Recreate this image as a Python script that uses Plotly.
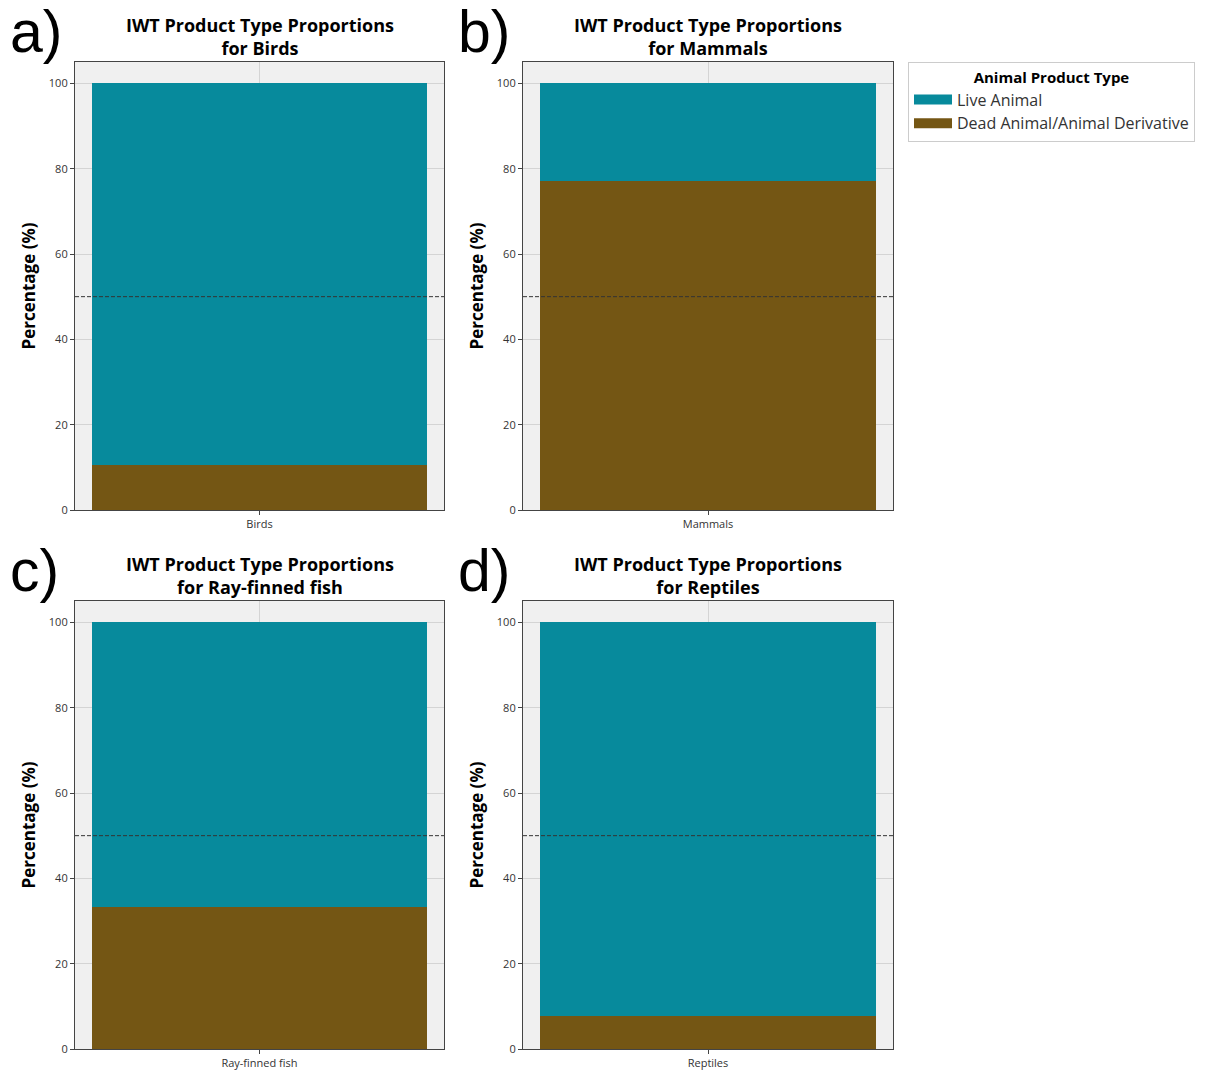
import plotly.graph_objects as go

groups = ["Birds", "Mammals", "Ray-finned fish", "Reptiles"]
dead_pct = [10.5, 77.1, 33.2, 7.7]
live_pct = [100 - d for d in dead_pct]
panel_letters = ["a)", "b)", "c)", "d)"]
series_names = ["Live Animal", "Dead Animal/Animal Derivative"]
colors = {"Live Animal": "#078a9c", "Dead Animal/Animal Derivative": "#745614"}

W, H = 1209, 1070
xdoms = [(75 / W, 444 / W), (523 / W, 893 / W)]
ydoms = [(1 - 510 / H, 1 - 62 / H), (1 - 1049 / H, 1 - 601 / H)]

fig = go.Figure()
FONT = "'Open Sans', Lato, sans-serif"

for i, g in enumerate(groups):
    row, col = divmod(i, 2)
    idx = "" if i == 0 else str(i + 1)
    xa, ya = "x" + idx, "y" + idx
    fig.add_trace(go.Bar(x=[0], y=[dead_pct[i]], width=0.8, name=series_names[1],
                         marker=dict(color=colors[series_names[1]], line=dict(width=0)),
                         xaxis=xa, yaxis=ya, showlegend=False))
    fig.add_trace(go.Bar(x=[0], y=[live_pct[i]], width=0.8, name=series_names[0],
                         marker=dict(color=colors[series_names[0]], line=dict(width=0)),
                         xaxis=xa, yaxis=ya, showlegend=False))
    axcommon = dict(showline=True, linecolor="#444", linewidth=1.2, mirror=True,
                    ticks="outside", ticklen=4, tickcolor="#444", automargin=False,
                    tickfont=dict(family=FONT, size=11, color="#333"),
                    gridcolor="#d4d4d4", gridwidth=1, zeroline=False)
    fig.layout["xaxis" + idx] = dict(axcommon, domain=xdoms[col], range=[-0.44, 0.44],
                                     tickvals=[0], ticktext=[g], anchor=ya, showgrid=True)
    fig.layout["yaxis" + idx] = dict(axcommon, domain=ydoms[row], range=[0, 105],
                                     tickvals=[0, 20, 40, 60, 80, 100], anchor=xa,
                                     title=dict(text="<b>Percentage (%)</b>",
                                                font=dict(family=FONT, size=17, color="#000"),
                                                standoff=8))
    fig.add_shape(type="line", xref=xa + " domain", yref=ya, x0=0, x1=1, y0=50, y1=50,
                  line=dict(color="#333", width=1, dash="4px,2px"))
    xc = (xdoms[col][0] + xdoms[col][1]) / 2
    fig.add_annotation(xref="paper", yref="paper", x=xc, y=ydoms[row][1],
                       xanchor="center", yanchor="bottom", showarrow=False,
                       text="<b>IWT Product Type Proportions<br>for " + g + "</b>",
                       font=dict(family=FONT, size=18, color="#000"))
    fig.add_annotation(xref="paper", yref="paper", x=xdoms[col][0] - 67 / W,
                       y=ydoms[row][1] + 30 / H, xanchor="left", yanchor="middle",
                       showarrow=False, text=panel_letters[i],
                       font=dict(family="Liberation Sans, Arial, sans-serif", size=59, color="#000"))

# legend entries (wide swatches like the reference)
for name in series_names:
    fig.add_trace(go.Scatter(x=[None], y=[None], mode="lines", name=name,
                             line=dict(color=colors[name], width=12), showlegend=True))

fig.update_layout(
    width=W, height=H, barmode="stack", bargap=0,
    paper_bgcolor="white", plot_bgcolor="#f0f0f0",
    margin=dict(l=0, r=0, t=0, b=0),
    font=dict(family=FONT),
    legend=dict(x=908 / W, y=1 - 62 / H, xanchor="left", yanchor="top",
                traceorder="normal", bordercolor="#cccccc", borderwidth=1,
                itemwidth=38,
                font=dict(family=FONT, size=16, color="#333"),
                title=dict(text="<b>Animal Product Type</b>", side="top center",
                           font=dict(family=FONT, size=15, color="#000"))),
)

fig.write_html("out.html")
